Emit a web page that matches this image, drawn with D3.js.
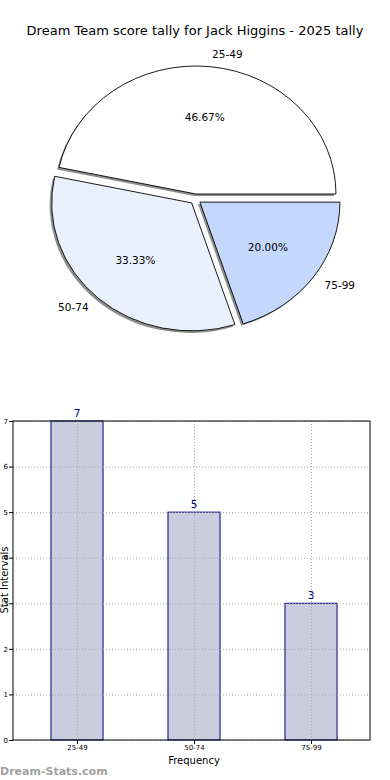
<!DOCTYPE html>
<html><head><meta charset="utf-8">
<script src="https://cdn.jsdelivr.net/npm/d3@7"></script>
<style>body{margin:0;background:#fff}svg{display:block}text{font-family:"DejaVu Sans",sans-serif}</style>
</head><body>
<script>
const title = "Dream Team score tally for Jack Higgins - 2025 tally";
const categories = ["25-49", "50-74", "75-99"];
const counts = [7, 5, 3];
const sliceColors = ["#ffffff", "#eaf1fe", "#c4d8fe"];
const yTicks = [0, 1, 2, 3, 4, 5, 6, 7];

const W = 390, H = 780;
const svg = d3.select("body").append("svg").attr("width", W).attr("height", H);

svg.append("text").attr("x", 195).attr("y", 35).attr("text-anchor", "middle")
  .style("font-size", "13px").attr("fill", "#000").text(title);

// Pie
const cx = 195.4, cy = 199.1, rx = 140, ry = 128, explode = 0.04;
const total = d3.sum(counts);
const pie = d3.pie().sort(null).startAngle(Math.PI / 2).endAngle(Math.PI / 2 - 2 * Math.PI);
const arcs = pie(counts);
const arc = d3.arc().innerRadius(0).outerRadius(rx);
const sy = ry / rx;
const pg = svg.append("g");
function pos(a, r) {
  return [cx + r * rx * Math.sin(a), cy - r * ry * Math.cos(a)];
}
arcs.forEach((d, i) => {
  const mid = (d.startAngle + d.endAngle) / 2;
  const o = pos(mid, explode);
  pg.append("path").attr("d", arc(d))
    .attr("transform", `translate(${o[0] - 2},${o[1] + 2}) scale(1,${sy})`)
    .attr("fill", "#7a7a7a").attr("fill-opacity", 0.85);
});
arcs.forEach((d, i) => {
  const mid = (d.startAngle + d.endAngle) / 2;
  const o = pos(mid, explode);
  pg.append("path").attr("d", arc(d))
    .attr("transform", `translate(${o[0]},${o[1]}) scale(1,${sy})`)
    .attr("fill", sliceColors[i]).attr("stroke", "#000").attr("stroke-width", 0.9)
    .attr("vector-effect", "non-scaling-stroke");
  const p = pos(mid, 0.6 + explode);
  pg.append("text").attr("x", p[0]).attr("y", p[1]).attr("dy", "0.35em")
    .attr("text-anchor", "middle").style("font-size", "10.5px")
    .text((d.value / total * 100).toFixed(2) + "%");
  const l = pos(mid, 1.1 + explode);
  pg.append("text").attr("x", l[0]).attr("y", l[1]).attr("dy", "0.35em")
    .attr("text-anchor", Math.sin(mid) > 0 ? "start" : "end").style("font-size", "10.5px")
    .text(categories[i]);
});

// Bar chart
const L = 13, R = 370, T = 421, B = 740;
const x = d3.scaleLinear().domain([-0.547, 2.504]).range([L, R]);
const y = d3.scaleLinear().domain([0, 7]).range([B, T]);
const bw = 0.445;
const bg = svg.append("g");
bg.selectAll("rect.bar").data(counts).join("rect").attr("class", "bar")
  .attr("x", (d, i) => x(i - bw / 2)).attr("width", x(bw) - x(0))
  .attr("y", d => y(d)).attr("height", d => y(0) - y(d))
  .attr("fill", "#ccccdf").attr("stroke", "#000080").attr("stroke-width", 1);
bg.selectAll("line.hg").data(yTicks).join("line").attr("class", "hg")
  .attr("x1", L).attr("x2", R).attr("y1", d => y(d) + 0.5).attr("y2", d => y(d) + 0.5)
  .attr("stroke", "#aaaaaa").attr("stroke-dasharray", "1,2");
bg.selectAll("line.vg").data(categories).join("line").attr("class", "vg")
  .attr("y1", T).attr("y2", B).attr("x1", (d, i) => Math.round(x(i)) + 0.5).attr("x2", (d, i) => Math.round(x(i)) + 0.5)
  .attr("stroke", "#aaaaaa").attr("stroke-dasharray", "1,2");
bg.append("rect").attr("x", L).attr("y", T).attr("width", R - L).attr("height", B - T)
  .attr("fill", "none").attr("stroke", "#000").attr("stroke-width", 1);
bg.selectAll("text.val").data(counts).join("text").attr("class", "val")
  .attr("x", (d, i) => x(i)).attr("y", d => y(d) - 4).attr("text-anchor", "middle")
  .style("font-size", "10.5px").attr("fill", "#000080").text(d => d);
const yAxis = d3.axisLeft(y).tickValues(yTicks).tickSize(4).tickFormat(d3.format("d"));
const ya = bg.append("g").attr("transform", `translate(${L},0)`).call(yAxis);
const xAxis = d3.axisBottom(x).tickValues([0, 1, 2]).tickSize(4).tickFormat((d) => categories[d]);
const xa = bg.append("g").attr("transform", `translate(0,${B})`).call(xAxis);
[ya, xa].forEach(a => {
  a.select(".domain").remove();
  a.selectAll("text").style("font-size", "7px").attr("fill", "#000");
  a.selectAll("line").attr("stroke", "#000");
});
ya.selectAll("text").attr("x", -5);
xa.selectAll("text").attr("y", 5);
svg.append("text").attr("x", 194).attr("y", 764).attr("text-anchor", "middle")
  .style("font-size", "10px").text("Frequency");
svg.append("text").attr("transform", "translate(8,580) rotate(-90)").attr("text-anchor", "middle")
  .style("font-size", "10px").text("Stat Intervals");
svg.append("text").attr("x", 0).attr("y", 775).style("font-size", "11px").style("font-weight", "bold")
  .attr("fill", "#a0a0a0").text("Dream-Stats.com");
</script>
</body></html>
